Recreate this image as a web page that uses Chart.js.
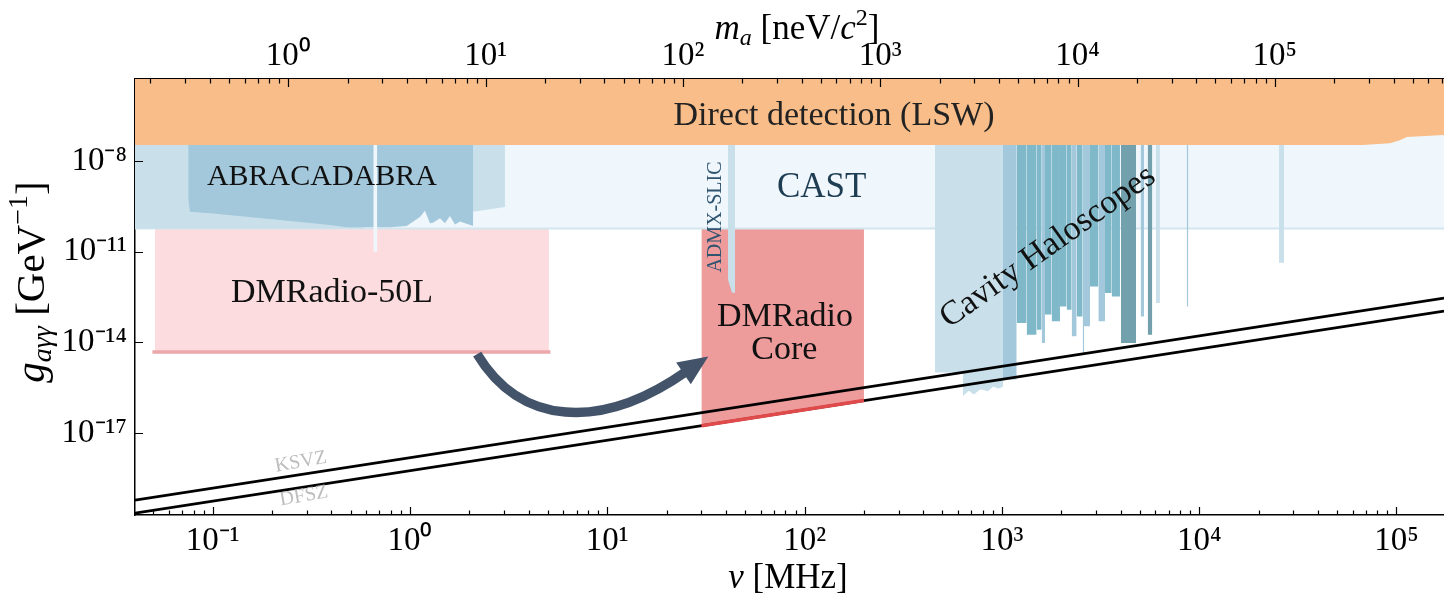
<!DOCTYPE html>
<html>
<head>
<meta charset="utf-8">
<script src="https://cdn.jsdelivr.net/npm/chart.js@4.4.1/dist/chart.umd.min.js"></script>
<style>
  html, body { margin: 0; padding: 0; background: #fff; }
  #wrap { width: 1444px; height: 594px; }
</style>
</head>
<body>
<div id="wrap"><canvas id="axionChart"></canvas></div>
<script>
// axis limits: frequency in MHz, coupling in GeV^-1
const nuMin = 0.0404, nuMax = 1.741e5;
const gMin = 1.95e-20, gMax = 5.16e-6;
const mhzToNeV = 4.1357; // h * 1 MHz expressed in neV

const xTicks = [1e-1, 1e0, 1e1, 1e2, 1e3, 1e4, 1e5];
const topTicks = [1e0, 1e1, 1e2, 1e3, 1e4, 1e5];
const yTicks = [1e-8, 1e-11, 1e-14, 1e-17];

// QCD axion benchmark lines
const ksvzNu = [nuMin, nuMax];
const ksvzG = [6.05e-20, 2.93e-13];
const dfszNu = [nuMin, nuMax];
const dfszG = [2.25e-20, 1.09e-13];

// light shining through wall (lower edge)
const lswNu = [nuMin, 6.76e4, 9.27e4, 1.04e5, 1.13e5, nuMax];
const lswG = [3.4e-8, 3.4e-8, 3.9e-8, 4.9e-8, 6.2e-8, 7.2e-8];

// CAST helioscope
const castNu = [nuMin, nuMax];
const castG = [5.8e-11, 5.8e-11];

// ABRACADABRA and the lighter limits behind it
const abraLightNu = [nuMin, 0.58, 0.6, 2.09, 2.09, 3.03];
const abraLightG = [5.8e-11, 5.8e-11, 2.5e-10, 2.5e-10, 2.1e-10, 3.0e-10];
const abraNu = [0.0752, 0.0767, 0.0969, 0.219, 0.393, 0.478, 0.792, 0.962, 1.124, 1.191, 1.263, 1.308, 1.419, 1.504, 1.595, 1.691, 1.793, 2.093];
const abraG = [5.8e-10, 2.1e-10, 1.86e-10, 1.12e-10, 7.6e-11, 6.4e-11, 6.4e-11, 7.1e-11, 1.4e-10, 2.26e-10, 8.7e-11, 9.0e-11, 1.27e-10, 8.7e-11, 1.51e-10, 8.0e-11, 1.0e-10, 7.1e-11];
const abraGapNu = [0.652, 0.683];
const abraGapG = [1.0e-11, 1.0e-11];

// DMRadio projections
const d50Nu = [0.051, 5.06];
const d50G = [4.8e-15, 4.8e-15];
const coreNu = [30, 200];
const coreG = [1.74e-17, 1.19e-16];

// ADMX-SLIC
const admxNu = [40.9, 42.9, 44.4];
const admxG = [1.2e-12, 4.4e-13, 4.4e-13];

// cavity haloscopes
const cavWideNu = [458, 635, 635, 680, 720, 780, 850, 900, 960, 1013];
const cavWideG = [1.0e-15, 1.0e-15, 1.7e-16, 2.5e-16, 1.9e-16, 2.8e-16, 2.4e-16, 3.4e-16, 3.0e-16, 3.4e-16];
const cavLo = [1013, 1189, 1335, 1500, 1591, 1654, 1787, 1970, 2130, 2258, 2393, 2567, 2608, 2796, 3083, 3331, 3601, 4014, 5050, 5483, 6040, 8645, 25400];
const cavHi = [1189, 1335, 1500, 1591, 1654, 1787, 1970, 2130, 2258, 2393, 2567, 2608, 2796, 3083, 3331, 3601, 3968, 4783, 5252, 5787, 6324, 8810, 26900];
const cavG = [5.9e-16, 4.4e-14, 1.8e-14, 2.6e-14, 9.5e-15, 8.3e-14, 5.0e-14, 1.55e-13, 1.2e-13, 1.6e-14, 7.2e-14, 4.5e-15, 3.4e-14, 7.1e-13, 5.0e-14, 4.3e-13, 3.3e-13, 9.5e-15, 7.2e-14, 1.8e-14, 2.0e-13, 1.55e-13, 4.3e-12];
const cavShade = ['M', 'T', 'T', 'T', 'M', 'T', 'T', 'T', 'T', 'M', 'T', 'M', 'M', 'T', 'M', 'T', 'T', 'D', 'M', 'D', 'L', 'M', 'L'];

// the curved arrow (bezier control points, then tip)
const arrowNu = [2.19, 3.61, 9.18, 25.3, 32.5];
const arrowG = [4.1e-15, 1.84e-17, 1.08e-17, 1.12e-15, 3.4e-15];

const SERIF = "'Liberation Serif', 'Times New Roman', serif";
const shade = { L: '#c9e0eb', M: '#a3c8db', T: '#7fb8c9', D: '#72a0ad' };

const notes = [
  { text: 'Direct detection (LSW)', nu: 141, g: 3.1e-7, size: 34, color: '#222', rot: 0 },
  { text: 'ABRACADABRA', nu: 0.358, g: 2.95e-9, size: 30, color: '#111', rot: 0 },
  { text: 'CAST', nu: 122, g: 1.28e-9, size: 35, color: '#1e3d53', rot: 0 },
  { text: 'DMRadio-50L', nu: 0.403, g: 4.3e-13, size: 34, color: '#111', rot: 0 },
  { text: 'DMRadio', nu: 79.6, g: 6.9e-14, size: 34, color: '#111', rot: 0 },
  { text: 'Core', nu: 79, g: 5.6e-15, size: 34, color: '#111', rot: 0 },
  { text: 'Cavity Haloscopes', nu: 1713, g: 1.43e-11, size: 34, color: '#111', rot: -35.5 },
  { text: 'ADMX-SLIC', nu: 35.6, g: 1.4e-10, size: 20, color: '#2f5470', rot: -90 },
  { text: 'KSVZ', nu: 0.28, g: 1.1e-18, size: 20, color: '#bdbdbd', rot: -10 },
  { text: 'DFSZ', nu: 0.29, g: 8.2e-20, size: 20, color: '#bdbdbd', rot: -10 }
];

function pts(xs, ys) { return xs.map((x, i) => ({ x: x, y: ys[i] })); }

function region(label, xs, ys, color, order) {
  return { label: label, data: pts(xs, ys), fill: 'end', backgroundColor: color,
           borderColor: 'transparent', borderWidth: 0, pointRadius: 0, order: order };
}
function curve(label, xs, ys, color, width, order) {
  return { label: label, data: pts(xs, ys), fill: false, borderColor: color,
           borderWidth: width, pointRadius: 0, borderCapStyle: 'butt', order: order };
}

const SUP = { '-': '\u207b', '0': '\u2070', '1': '\u00b9', '2': '\u00b2', '3': '\u00b3', '4': '\u2074',
              '5': '\u2075', '6': '\u2076', '7': '\u2077', '8': '\u2078', '9': '\u2079' };
function pow10(v) {
  const e = String(Math.round(Math.log10(v)));
  return '10' + e.split('').map(c => SUP[c]).join('');
}

const datasets = [
  region('DMRadio-50L', d50Nu, d50G, '#fcdcdf', 100),
  region('DMRadio Core', coreNu, coreG, '#ee9b9c', 99),
  Object.assign(region('CAST', castNu, castG, '#eff7fc', 98), { borderColor: '#d3e5ee', borderWidth: 2 }),
  region('ABRA limits', abraLightNu, abraLightG, shade.L, 90),
  region('ABRACADABRA', abraNu, abraG, shade.M, 89),
  region('ABRA gap', abraGapNu, abraGapG, '#eff7fc', 88),
  region('Cavity wide', cavWideNu, cavWideG, shade.L, 80)
];
cavLo.forEach((lo, i) => {
  datasets.push(region('Cavity ' + i, [lo, cavHi[i]], [cavG[i], cavG[i]], shade[cavShade[i]], 79));
});
datasets.push(
  region('ADMX-SLIC', admxNu, admxG, shade.L, 78),
  region('LSW', lswNu, lswG, '#f8bd88', 70),
  curve('DFSZ', dfszNu, dfszG, '#000', 2.8, 60),
  curve('DMRadio-50L edge', [0.0495, 5.15], d50G, '#eba7a9', 3.5, 55),
  curve('DMRadio Core edge', coreNu, coreG, '#e04a4a', 3.5, 54),
  curve('KSVZ', ksvzNu, ksvzG, '#000', 2.8, 50)
);

function logTickList(min, max) {
  const out = [];
  for (let e = Math.floor(Math.log10(min)); e <= Math.ceil(Math.log10(max)); e++) {
    for (let k = 1; k < 10; k++) {
      const v = k * Math.pow(10, e);
      if (v >= min && v <= max) out.push([v, k === 1]);
    }
  }
  return out;
}

// draws inward tick marks like the matplotlib original
const tickMarks = {
  id: 'tickMarks',
  afterDraw(chart) {
    const { ctx, chartArea: a, scales } = chart;
    ctx.save();
    ctx.strokeStyle = '#000';
    ctx.lineWidth = 1.2;
    ctx.beginPath();
    logTickList(nuMin, nuMax).forEach(([v, major]) => {
      const x = Math.round(scales.x.getPixelForValue(v)) + 0.5;
      ctx.moveTo(x, a.bottom); ctx.lineTo(x, a.bottom - (major ? 8 : 4.5));
    });
    logTickList(nuMin * mhzToNeV, nuMax * mhzToNeV).forEach(([v, major]) => {
      const x = Math.round(scales.xTop.getPixelForValue(v)) + 0.5;
      ctx.moveTo(x, a.top); ctx.lineTo(x, a.top + (major ? 8 : 4.5));
    });
    yTicks.forEach(v => {
      const y = Math.round(scales.y.getPixelForValue(v)) + 0.5;
      ctx.moveTo(a.left, y); ctx.lineTo(a.left + 8, y);
    });
    ctx.stroke();
    ctx.restore();
  }
};

// parts: [text, size, italic, dy]
function drawRich(ctx, parts, x, y) {
  let w = 0;
  parts.forEach(p => { ctx.font = (p[2] ? 'italic ' : '') + p[1] + 'px ' + SERIF; w += ctx.measureText(p[0]).width; });
  let cx = x - w / 2;
  parts.forEach(p => {
    ctx.font = (p[2] ? 'italic ' : '') + p[1] + 'px ' + SERIF;
    ctx.fillText(p[0], cx, y + p[3]);
    cx += ctx.measureText(p[0]).width;
  });
}

const annotations = {
  id: 'annotations',
  afterDatasetsDraw(chart) {
    const { ctx, scales } = chart;
    const px = nu => scales.x.getPixelForValue(nu);
    const py = g => scales.y.getPixelForValue(g);
    ctx.save();

    // arrow from DMRadio-50L to DMRadio Core
    const P = arrowNu.map((nu, i) => [px(nu), py(arrowG[i])]);
    ctx.strokeStyle = '#435369';
    ctx.fillStyle = '#435369';
    ctx.lineWidth = 9.5;
    ctx.lineCap = 'butt';
    ctx.beginPath();
    ctx.moveTo(P[0][0], P[0][1]);
    ctx.bezierCurveTo(P[1][0], P[1][1], P[2][0], P[2][1], P[3][0], P[3][1]);
    ctx.stroke();
    const dx = P[4][0] - P[3][0], dy = P[4][1] - P[3][1];
    const len = Math.hypot(dx, dy);
    const nx = -dy / len * 13, ny = dx / len * 13;
    const bx = P[3][0] - dx / len * 4, by = P[3][1] - dy / len * 4;
    ctx.beginPath();
    ctx.moveTo(P[4][0], P[4][1]);
    ctx.lineTo(bx + nx, by + ny);
    ctx.lineTo(bx - nx, by - ny);
    ctx.closePath();
    ctx.fill();

    // region labels
    ctx.textAlign = 'center';
    ctx.textBaseline = 'middle';
    notes.forEach(n => {
      ctx.save();
      ctx.translate(px(n.nu), py(n.g));
      ctx.rotate(n.rot * Math.PI / 180);
      ctx.font = n.size + 'px ' + SERIF;
      ctx.fillStyle = n.color;
      ctx.fillText(n.text, 0, 0);
      ctx.restore();
    });

    // axis titles
    ctx.fillStyle = '#000';
    ctx.textAlign = 'left';
    ctx.textBaseline = 'alphabetic';
    drawRich(ctx, [['\u03bd', 35, true, 0], [' [MHz]', 35, false, 0]], 788, 588);
    drawRich(ctx, [['m', 35, true, 0], ['a', 24, true, 6], [' [neV/', 35, false, 0], ['c', 35, true, 0], ['2', 24, false, -14], [']', 35, false, 0]], 797, 39);
    ctx.save();
    ctx.translate(44, 282);
    ctx.rotate(-Math.PI / 2);
    drawRich(ctx, [['g', 41, true, 0], ['a\u03b3\u03b3', 28, true, 7], [' [GeV', 41, false, 0], ['\u22121', 28, false, -17], [']', 41, false, 0]], 0, 0);
    ctx.restore();
    ctx.restore();
  }
};

const tickFont = { family: SERIF, size: 33 };

new Chart(document.getElementById('axionChart'), {
  type: 'line',
  data: { datasets: datasets },
  options: {
    responsive: true,
    maintainAspectRatio: false,
    animation: false,
    devicePixelRatio: 1,
    events: [],
    layout: { padding: 0 },
    plugins: { legend: { display: false }, tooltip: { enabled: false } },
    scales: {
      x: {
        type: 'logarithmic', position: 'bottom', min: nuMin, max: nuMax,
        grid: { display: false, drawTicks: false },
        border: { display: true, color: '#000', width: 1.5 },
        afterBuildTicks: s => { s.ticks = xTicks.map(v => ({ value: v })); },
        afterFit: s => { s.height = 79; },
        ticks: { callback: v => pow10(v), font: tickFont, color: '#000', padding: 7, autoSkip: false, maxRotation: 0 }
      },
      xTop: {
        type: 'logarithmic', position: 'top', min: nuMin * mhzToNeV, max: nuMax * mhzToNeV,
        grid: { display: false, drawTicks: false },
        border: { display: true, color: '#000', width: 1.5 },
        afterBuildTicks: s => { s.ticks = topTicks.map(v => ({ value: v })); },
        afterFit: s => { s.height = 79; },
        ticks: { callback: v => pow10(v), font: tickFont, color: '#000', padding: 3, autoSkip: false, maxRotation: 0 }
      },
      y: {
        type: 'logarithmic', position: 'left', min: gMin, max: gMax,
        grid: { display: false, drawTicks: false },
        border: { display: true, color: '#000', width: 1.5 },
        afterBuildTicks: s => { s.ticks = yTicks.map(v => ({ value: v })); },
        afterFit: s => { s.width = 135; },
        ticks: { callback: v => pow10(v), font: tickFont, color: '#000', padding: 8, autoSkip: false }
      }
    }
  },
  plugins: [tickMarks, annotations]
});
</script>
</body>
</html>
